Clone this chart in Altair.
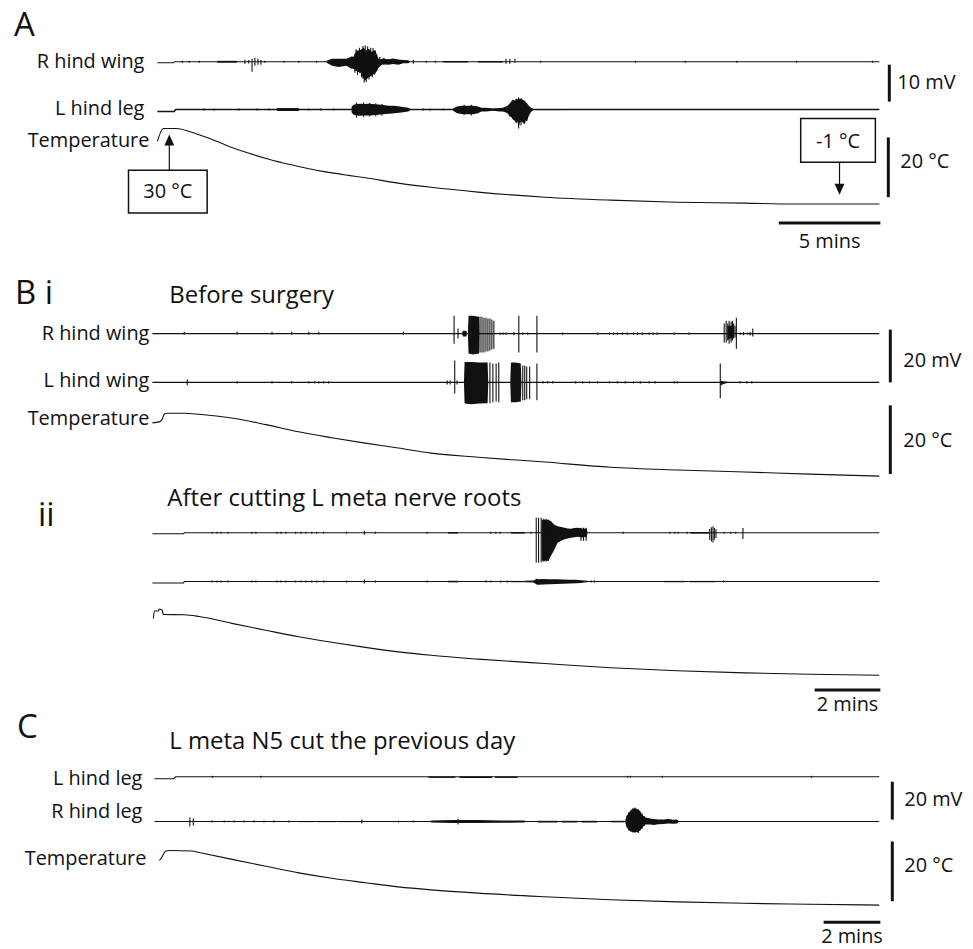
import altair as alt
import pandas as pd

# ======================= DATA =======================
# time in minutes from trace start, voltage in mV (up / down excursion), temperature in °C

# ---------- Panel A ----------
A_RW_BASE = [(0, -0.27), (0.8, -0.27), (0.83, 0), (35.54, 0)]
A_RW_SPIKES = [
    (1.23, 0.27, 0.27), (1.57, 0.27, 0.27), (2.06, 0.27, 0.27), (4.31, 0.54, 0.54),
    (4.5, 0.5, 0.5), (4.66, 0.8, 2.7), (4.8, 1.1, 1.1), (4.95, 0.8, 0.8), (5.1, 0.5, 0.8),
    (5.29, 0.27, 0.27), (6.23, 0.27, 0.27), (6.96, 0.27, 0.27), (7.84, 0.27, 0.27),
    (9.72, 2.2, 3.0), (9.78, 3.4, 2.5), (9.85, 2.8, 3.6), (9.95, 3.8, 3.0), (10.05, 3.0, 4.2),
    (10.12, 4.3, 4.6), (10.18, 3.6, 5.6), (10.23, 4.4, 4.8), (10.28, 3.2, 5.5), (10.35, 4.2, 4.2),
    (10.42, 3.3, 4.8), (10.5, 3.8, 3.6), (10.58, 2.6, 4.2), (10.62, 3.7, 3.1), (10.7, 2.9, 3.5),
    (10.8, 2.2, 2.4), (10.95, 1.3, 1.1), (11.15, 1.0, 0.9),
    (12.6, 0.54, 0.54), (13.24, 0.27, 0.27), (13.68, 0.27, 0.27),
    (17.16, 0.8, 0.54), (17.35, 0.8, 0.54), (17.6, 0.8, 0.27), (18.87, 0.27, 0.27),
    (23.53, 0.27, 0.27), (25.98, 0.27, 0.27), (28.53, 0.27, 0.27), (31.47, 0.27, 0.27),
    (35.2, 0.27, 0.27),
]
A_RW_BURSTS = [
    [(2.94, 0.25, 0.25), (3.92, 0.25, 0.25)],
    [(8.33, 0.3, 0.3), (8.6, 0.8, 1.1), (8.92, 0.8, 1.4), (9.3, 0.8, 1.1), (9.56, 1.4, 1.9),
     (9.66, 1.35, 1.9), (9.8, 3.0, 2.5), (10.0, 3.2, 3.0), (10.15, 3.8, 4.5), (10.25, 2.7, 5.0),
     (10.39, 3.5, 4.3), (10.54, 2.7, 3.8), (10.74, 3.2, 3.0), (10.78, 1.9, 2.8), (10.88, 0.9, 1.6),
     (11.0, 0.6, 1.0), (11.1, 0.9, 0.7), (11.37, 0.7, 0.8), (11.6, 0.9, 0.6), (11.86, 0.6, 0.8),
     (12.1, 0.5, 0.4), (12.35, 0.4, 0.4), (12.45, 0, 0)],
    [(14.07, 0.2, 0.2), (15.29, 0.2, 0.2)],
    [(15.78, 0.2, 0.2), (17.01, 0.2, 0.2)],
]

A_LL_BASE = [(0, -0.54), (0.83, -0.54), (0.9, 0), (35.54, 0)]
A_LL_SPIKES = [
    (2.3, 0.27, 0.27), (2.79, 0.27, 0.27), (4.02, 0.27, 0.27), (4.9, 0.27, 0.27), (5.49, 0.27, 0.27),
    (7.45, 0.27, 0.27), (8.04, 0.27, 0.27), (8.68, 0.27, 0.27), (9.8, 1.9, 2.2), (10.15, 1.9, 2.0),
    (10.45, 1.8, 1.9), (10.75, 1.7, 1.8), (11.05, 1.5, 1.7),
    (13.09, 0.27, 0.27), (13.43, 0.27, 0.27), (14.07, 0.27, 0.27), (15.1, 1.3, 1.5),
    (15.45, 1.3, 1.6), (17.78, 3.24, 5.14), (17.9, 3.0, 4.3),
]
A_LL_BURSTS = [
    [(5.88, 0.4, 0.4), (6.96, 0.4, 0.4)],
    [(9.56, 0.8, 0.8), (9.66, 1.3, 1.4), (9.8, 1.5, 1.6), (10.0, 1.55, 1.7), (10.2, 1.5, 1.6),
     (10.4, 1.55, 1.6), (10.6, 1.5, 1.55), (10.88, 1.35, 1.4), (11.1, 1.2, 1.3), (11.4, 1.0, 1.15),
     (11.67, 1.0, 1.0), (12.01, 0.75, 0.8), (12.35, 0.5, 0.5), (12.5, 0, 0)],
    [(14.56, 0.3, 0.3), (14.75, 0.8, 1.0), (15.0, 1.0, 1.2), (15.2, 1.05, 1.3), (15.54, 1.05, 1.3),
     (15.78, 0.8, 1.0), (15.95, 0.5, 0.55), (16.18, 0.5, 0.5), (16.52, 0.3, 0.3), (16.85, 0.45, 0.5),
     (17.01, 0.5, 0.5), (17.16, 0.8, 0.8), (17.25, 1.08, 1.08), (17.34, 1.62, 1.89), (17.42, 2.2, 2.0),
     (17.5, 2.7, 2.7), (17.58, 2.4, 3.0), (17.66, 2.97, 3.78), (17.72, 2.7, 3.2), (17.78, 3.24, 5.14),
     (17.84, 2.8, 3.6), (17.91, 2.97, 3.24), (18.0, 2.6, 3.6), (18.07, 2.43, 4.05), (18.14, 2.0, 3.0),
     (18.2, 1.62, 3.24), (18.26, 1.2, 2.0), (18.32, 0.81, 1.35), (18.4, 0.5, 0.6), (18.48, 0.27, 0.27),
     (18.55, 0, 0)],
    [(18.6, 0.15, 0.15), (19.9, 0.15, 0.15)], [(20.1, 0.15, 0.15), (22.0, 0.15, 0.15)],
    [(22.3, 0.15, 0.15), (25.0, 0.15, 0.15)], [(25.2, 0.15, 0.15), (27.6, 0.15, 0.15)],
    [(27.8, 0.15, 0.15), (30.5, 0.15, 0.15)], [(30.7, 0.15, 0.15), (33.0, 0.15, 0.15)],
    [(33.2, 0.15, 0.15), (35.5, 0.15, 0.15)],
]

A_TEMP_T = [0, 0.29, 0.93, 1.57, 2.55, 3.53, 4.51, 5.49, 6.47, 7.45, 8.43, 9.41, 10.25, 11.86,
            13.48, 15.78, 19.07, 22.3, 25.59, 28.87, 31.32, 35.54]
A_TEMP_C = [25.7, 30, 30, 29, 26.7, 24, 21.7, 19.7, 18.0, 16.5, 15.3, 14.3, 13.5, 11.7,
            10.3, 8.7, 7.0, 6.0, 5.3, 5.0, 4.7, 4.7]

# ---------- Panel B i ----------
B_RW_BASE = [(0, 0), (22.12, 0)]
B_RW_SPIKES = [
    (0.97, 0.75, 0.38), (2.58, 0.75, 0.38), (3.64, 0.75, 0.38), (4.24, 0.75, 0.38),
    (4.76, 0.75, 0.38), (5.06, 0.75, 0.38), (7.64, 0.75, 0.38),
    (9.18, 6.8, 3.8), (9.3, 1.9, 1.9),
    (9.97, 6.4, 7.2), (10.03, 6.4, 7.2), (10.09, 6.0, 7.2), (10.15, 6.0, 6.8), (10.21, 5.7, 6.8),
    (10.27, 5.7, 6.4), (10.33, 5.3, 6.0), (10.39, 4.9, 5.7),
    (10.58, 0.4, 0.4), (10.67, 0.4, 0.4), (10.76, 0.4, 0.4), (11.0, 0.6, 0.6), (11.15, 6.8, 7.2),
    (11.27, 0.4, 0.4), (11.42, 0.4, 0.4), (11.7, 6.8, 7.2), (12.48, 0.4, 0.4), (13.55, 0.4, 0.4),
    (13.91, 0.4, 0.4), (14.03, 0.4, 0.4), (14.15, 0.4, 0.4), (14.3, 0.4, 0.4), (14.45, 0.4, 0.4),
    (14.64, 0.4, 0.4), (14.76, 0.4, 0.4), (14.91, 0.4, 0.4), (15.12, 0.4, 0.4), (15.24, 0.4, 0.4),
    (15.36, 0.4, 0.4), (15.88, 0.4, 0.4), (16.33, 0.4, 0.4),
    (17.4, 3.8, 3.4), (17.46, 4.9, 3.4), (17.51, 3.8, 2.6), (17.55, 4.9, 3.8), (17.61, 4.5, 3.4),
    (17.65, 4.9, 2.6), (17.69, 3.8, 1.9), (17.73, 3.0, 1.5), (17.77, 6.0, 5.7),
    (17.89, 0.4, 0.4), (17.99, 0.6, 0.6), (18.11, 0.4, 0.4), (18.19, 0.75, 0.75), (18.27, 1.9, 1.1),
]
B_RW_BURSTS = [
    [(9.42, 0, 0), (9.45, 1.1, 1.1), (9.55, 1.1, 1.1), (9.58, 0, 0)],
    [(9.6, 0, 0), (9.62, 6.8, 7.5), (9.75, 6.8, 7.9), (9.94, 6.4, 7.5), (9.95, 0, 0)],
    [(17.5, 3.0, 2.2), (17.7, 3.0, 1.5)],
]

B_LW_BASE = [(0, 0), (22.12, 0)]
B_LW_SPIKES = [
    (1.06, 1.1, 1.1), (2.58, 0.4, 0.4), (3.64, 0.4, 0.4), (4.24, 0.4, 0.4), (4.76, 0.4, 0.4),
    (4.94, 0.4, 0.4), (5.06, 0.4, 0.4), (5.21, 0.4, 0.4), (5.36, 0.4, 0.4),
    (8.97, 0.75, 0.75), (9.06, 0.75, 0.75), (9.2, 8.3, 4.2), (9.27, 0.75, 0.75),
    (10.27, 7.5, 7.9), (10.36, 7.2, 7.5), (10.46, 7.2, 7.2), (10.54, 7.5, 7.5),
    (11.27, 6.4, 6.8), (11.33, 6.4, 6.8), (11.39, 6.0, 6.4), (11.48, 6.0, 6.4), (11.7, 7.2, 6.8),
    (11.88, 0.4, 0.4), (12.03, 0.4, 0.4), (12.18, 0.4, 0.4), (12.88, 0.4, 0.4), (13.09, 0.4, 0.4),
    (13.3, 0.4, 0.4), (13.55, 0.4, 0.4), (13.91, 0.4, 0.4), (14.15, 0.4, 0.4), (14.39, 0.4, 0.4),
    (14.64, 0.4, 0.4), (14.85, 0.4, 0.4), (15.12, 0.4, 0.4), (15.3, 0.4, 0.4), (15.88, 0.4, 0.4),
    (15.97, 0.4, 0.4), (17.28, 7.2, 6.0), (17.88, 0.4, 0.4), (18.09, 0.4, 0.4), (18.24, 0.4, 0.4),
]
B_LW_BURSTS = [
    [(9.48, 0, 0), (9.5, 7.7, 8.0), (9.7, 7.7, 8.3), (9.95, 7.5, 8.0), (10.2, 7.5, 7.9), (10.22, 0, 0)],
    [(10.89, 0, 0), (10.91, 7.5, 7.5), (11.05, 7.5, 7.5), (11.21, 7.2, 7.2), (11.23, 0, 0)],
    [(17.29, 0.75, 1.5), (17.33, 0.5, 0.9), (17.4, 0.3, 0.5), (17.5, 0.2, 0.2)],
]

B_TEMP_T = [0, 0.21, 0.3, 0.36, 0.45, 0.97, 1.42, 2.42, 3.45, 4.45, 5.45, 6.48, 7.48, 8.48,
            9.91, 11.94, 13.94, 15.97, 18.03, 20.0, 22.12]
B_TEMP_C = [27.2, 27.5, 28.3, 29.7, 30, 30, 29.7, 28.6, 26.7, 24.6, 22.9, 21.3, 19.9, 18.4,
            17.2, 15.8, 14.3, 13.5, 12.9, 12.3, 11.7]

# ---------- Panel B ii ----------
BII_DOTS = [1.82, 1.97, 2.09, 2.3, 3.03, 3.15, 3.79, 3.91, 4.06, 4.36, 4.52, 4.67, 4.85, 5.0,
            5.21, 5.91, 6.79, 8.36]
BII1_BASE = [(0, -0.38), (0.95, -0.38), (0.97, 0), (22.12, 0)]
BII1_SPIKES = [
    (6.45, 0.75, 0.75), (10.3, 0.4, 0.4), (10.45, 0.4, 0.4), (10.58, 0.4, 0.4), (11.52, 0.4, 0.4),
    (11.68, 5.7, 11.3), (11.75, 5.7, 11.3), (11.83, 5.7, 11.3), (11.91, 5.3, 11.0),
    (11.98, 5.3, 10.9), (12.05, 4.9, 10.6), (13.04, 1.9, 3.0), (13.12, 1.9, 3.0), (13.2, 1.9, 3.0),
    (14.33, 0.4, 0.4), (15.75, 0.4, 0.4), (15.9, 0.4, 0.4), (16.0, 0.4, 0.4), (16.27, 0.4, 0.4),
    (16.96, 1.4, 2.6), (17.01, 2.1, 3.3), (17.06, 2.5, 3.7), (17.1, 1.8, 2.6), (17.15, 1.3, 2.0),
    (17.4, 0.4, 0.4), (17.6, 0.4, 0.4), (17.75, 0.4, 0.4), (17.97, 1.8, 2.4),
]
BII1_BURSTS = [
    [(9.0, 0.3, 0.3), (9.3, 0.3, 0.3)],
    [(10.91, 0.3, 0.3), (11.33, 0.3, 0.3)],
    [(11.84, 0, 0), (11.85, 4.9, 10.6), (12.05, 4.9, 10.6), (12.13, 4.4, 8.7), (12.23, 3.0, 6.4),
     (12.33, 2.5, 3.8), (12.44, 2.2, 3.0), (12.54, 1.9, 2.5), (12.64, 1.6, 2.2), (12.74, 1.5, 1.9),
     (12.84, 1.8, 1.7), (12.94, 1.9, 1.5), (13.08, 1.6, 1.8), (13.22, 1.5, 1.5), (13.24, 0, 0)],
    [(16.37, 0.3, 0.3), (16.93, 0.3, 0.3)],
]
BII2_BASE = [(0, -0.57), (0.95, -0.57), (0.97, 0), (22.12, 0)]
BII2_SPIKES = [
    (6.45, 0.75, 0.75), (10.15, 0.4, 0.4), (10.3, 0.4, 0.4), (10.6, 0.4, 0.4), (10.8, 0.4, 0.4),
    (11.71, 1.1, 1.1), (13.2, 0.4, 0.4), (13.35, 0.4, 0.4), (13.45, 0.4, 0.4), (17.38, 0.4, 0.4),
]
BII2_BURSTS = [
    [(9.0, 0.3, 0.3), (9.3, 0.3, 0.3)],
    [(10.9, 0.25, 0.25), (11.3, 0.25, 0.25)],
    [(11.32, 0.3, 0.3), (11.6, 0.4, 0.4), (11.68, 1.0, 1.0), (11.75, 0.9, 1.2), (11.9, 1.0, 1.1),
     (12.1, 0.9, 1.0), (12.3, 0.85, 0.95), (12.5, 0.8, 0.8), (12.7, 0.7, 0.75), (12.9, 0.65, 0.65),
     (13.05, 0.5, 0.5), (13.14, 0.4, 0.4), (13.2, 0.2, 0.2)],
    [(15.57, 0.25, 0.25), (16.2, 0.25, 0.25)], [(16.35, 0.25, 0.25), (17.13, 0.25, 0.25)],
]
BII_TEMP_T = [0.03, 0.06, 0.18, 0.21, 0.27, 0.3, 0.33, 0.97, 1.42, 2.42, 3.45, 4.45, 5.45, 6.48,
              7.48, 8.48, 9.91, 11.94, 13.94, 15.97, 18.03, 20.0, 22.12]
BII_TEMP_C = [28.8, 31.0, 31.0, 31.6, 31.4, 31.2, 30.0, 29.9, 29.4, 27.4, 25.4, 23.5, 21.9, 20.4,
              19.1, 18.1, 17.0, 15.7, 14.5, 13.6, 13.0, 12.6, 12.3]

# ---------- Panel C ----------
C_LL_BASE = [(0, -1.05), (0.68, -1.05), (0.75, 0), (25.54, 0)]
C_LL_SPIKES = [(2.04, 0.5, 0.5), (3.75, 0.5, 0.5), (16.67, 0.5, 0.5), (16.77, 0.5, 0.5),
               (17.9, 0.5, 0.5), (23.16, 0.5, 0.5)]
C_LL_BURSTS = [[(9.65, 0.1, 0.6), (10.6, 0.1, 0.6)], [(10.75, 0.1, 0.6), (11.9, 0.1, 0.6)],
               [(12.0, 0.1, 0.6), (12.8, 0.1, 0.6)]]

C_RL_BASE = [(0, 0), (25.54, 0)]
C_RL_SPIKES = [
    (1.25, 2.1, 2.6), (1.37, 1.6, 2.1), (2.04, 0.5, 0.5), (2.46, 0.5, 0.5), (2.81, 0.5, 0.5),
    (3.16, 0.5, 0.5), (3.51, 0.5, 0.5), (3.86, 0.5, 0.5), (4.21, 0.5, 0.5), (4.74, 0.5, 0.5),
    (7.31, 1.05, 1.05), (8.6, 0.5, 0.5), (9.12, 0.5, 0.5), (10.7, 1.6, 1.6),
    (16.65, 3.2, 3.0), (16.72, 5.0, 4.7), (16.8, 6.3, 5.3), (16.86, 7.1, 5.8), (16.93, 7.4, 5.8),
    (16.98, 6.8, 5.5), (17.05, 6.5, 6.0), (17.1, 5.8, 4.9), (17.18, 4.2, 3.8), (17.26, 3.0, 2.4),
]
C_RL_BURSTS = [
    [(5.09, 0.3, 0.3), (5.6, 0.3, 0.3)], [(5.75, 0.3, 0.3), (6.4, 0.3, 0.3)],
    [(6.5, 0.3, 0.3), (7.2, 0.3, 0.3)],
    [(9.75, 0.5, 0.5), (10.5, 0.8, 0.8), (11.4, 0.8, 0.8), (12.2, 0.6, 0.6), (13.05, 0.5, 0.5)],
    [(13.5, 0.4, 0.5), (14.2, 0.4, 0.5)], [(14.35, 0.4, 0.5), (14.9, 0.4, 0.5)],
    [(15.05, 0.4, 0.5), (15.6, 0.4, 0.5)],
    [(16.07, 0.4, 0.4), (16.56, 0.4, 0.4)],
    [(16.58, 0, 0), (16.61, 1.58, 1.58), (16.69, 4.2, 4.2), (16.78, 5.8, 5.3), (16.9, 7.0, 5.6),
     (17.02, 6.5, 5.6), (17.13, 5.0, 4.5), (17.23, 3.0, 2.5), (17.31, 2.1, 1.6), (17.48, 1.6, 1.6),
     (17.6, 1.4, 1.8), (17.75, 1.1, 1.4), (17.95, 1.05, 1.3), (18.1, 1.3, 1.0), (18.3, 0.9, 1.2),
     (18.42, 1.05, 1.05), (18.48, 0, 0)],
]
C_TEMP_T = [0.18, 0.28, 0.39, 0.53, 1.33, 1.58, 2.74, 3.93, 5.09, 6.25, 7.44, 8.6, 9.75, 11.4,
            13.75, 16.07, 18.42, 20.77, 23.09, 25.54]
C_TEMP_C = [26.7, 28.0, 29.7, 30, 29.8, 29.3, 27.0, 24.7, 22.5, 20.7, 19.2, 17.8, 16.8, 15.7,
            14.5, 13.5, 12.8, 12.3, 12.0, 11.7]

# scale bars: (trace whose gain is used, length in units, label)
V_BARS = [("A_RW", 10, "10 mV"), ("A_T", 20, "20 °C"), ("B_RW", 20, "20 mV"),
          ("B_T", 20, "20 °C"), ("C_RL", 20, "20 mV"), ("C_T", 20, "20 °C")]
H_BARS = [("A", 5, "5 mins"), ("B", 2, "2 mins"), ("C", 2, "2 mins")]

# ======================= LAYOUT (page pixels) =======================
PANEL_X = {"A": (158, 20.4), "B": (153, 33.0), "C": (155, 28.5)}   # x of t=0, px per minute
# trace: (panel, y px of reference value, px per unit, reference value, stroke width, temperature?)
TRACE_LAYOUT = {
    "A_RW": ("A", 60, 3.7, 0, 1.1, False), "A_LL": ("A", 108, 3.7, 0, 1.5, False),
    "A_T": ("A", 127, 3.0, 30, 1.1, True),
    "B_RW": ("B", 333, 2.65, 0, 1.1, False), "B_LW": ("B", 382, 2.65, 0, 1.1, False),
    "B_T": ("B", 413, 3.45, 30, 1.1, True),
    "BII1": ("B", 533, 2.65, 0, 1.1, False), "BII2": ("B", 582, 2.65, 0, 1.1, False),
    "BII_T": ("B", 615, 3.45, 30, 1.1, True),
    "C_LL": ("C", 778, 1.9, 0, 1.1, False), "C_RL": ("C", 823, 1.9, 0, 1.1, False),
    "C_T": ("C", 852, 3.0, 30, 1.1, True),
}
V_BAR_POS = [(893, 63, 901, 87), (892, 136, 904, 167), (894, 329, 907, 367),
             (894, 405, 907, 447), (896, 783, 908, 807), (896, 843, 908, 874)]  # x, top, label x, baseline
H_BAR_POS = [(884, 222, 247), (884, 691, 712), (884, 924, 945)]  # right x, y, label baseline

LABELS = [
    ("A", 14, 34, 33, "left"), ("R hind wing", 145, 66, 20, "right"),
    ("L hind leg", 145, 113, 20, "right"), ("Temperature", 150, 146, 20, "right"),
    ("30 °C", 168.5, 197, 20, "center"), ("-1 °C", 841.5, 147, 20, "center"),
    ("B i", 15, 303, 33, "left"), ("Before surgery", 170, 302, 24, "left"),
    ("R hind wing", 150, 339, 20, "right"), ("L hind wing", 150, 387, 20, "right"),
    ("Temperature", 150, 425, 20, "right"),
    ("ii", 38, 526, 33, "left"), ("After cutting L meta nerve roots", 168, 506, 24, "left"),
    ("C", 17, 739, 33, "left"), ("L meta N5 cut the previous day", 170, 750, 24, "left"),
    ("L hind leg", 143, 786, 20, "right"), ("R hind leg", 143, 819, 20, "right"),
    ("Temperature", 147, 867, 20, "right"),
]
BOXES = [(129, 169, 208, 212), (804, 117, 879, 161)]
ARROW_LINES = [(170, 169, 143), (843, 161, 183)]
ARROW_HEADS_UP = [(170, 138.5)]
ARROW_HEADS_DOWN = [(843, 188)]

W, H = 961, 941   # plot area in px (page x 8..969, y 8..949)

# ======================= BUILD =======================
def X(p, t):
    x0, k = PANEL_X[p]
    return x0 + t * k

def Y(name, v):
    _, y0, k, v0, _, _ = TRACE_LAYOUT[name]
    return y0 - (v - v0) * k

lines, areas, rules = [], [], []

def add_trace(name, base, spikes=(), bursts=()):
    p, _, _, _, w, is_t = TRACE_LAYOUT[name]
    for i, (t, v) in enumerate(base):
        lines.append(dict(x=X(p, t), y=Y(name, v), g=name, o=i, w=w, temp=is_t))
    for t, up, dn in spikes:
        rules.append(dict(x=X(p, t), y=Y(name, up), y2=Y(name, -dn)))
    for j, b in enumerate(bursts):
        for t, up, dn in b:
            areas.append(dict(x=X(p, t), y=Y(name, up), y2=Y(name, -dn), g=f"{name}_{j}"))

add_trace("A_RW", A_RW_BASE, A_RW_SPIKES, A_RW_BURSTS)
add_trace("A_LL", A_LL_BASE, A_LL_SPIKES, A_LL_BURSTS)
add_trace("A_T", list(zip(A_TEMP_T, A_TEMP_C)))
add_trace("B_RW", B_RW_BASE, B_RW_SPIKES, B_RW_BURSTS)
add_trace("B_LW", B_LW_BASE, B_LW_SPIKES, B_LW_BURSTS)
add_trace("B_T", list(zip(B_TEMP_T, B_TEMP_C)))
add_trace("BII1", BII1_BASE, BII1_SPIKES + [(t, 0.4, 0.4) for t in BII_DOTS], BII1_BURSTS)
add_trace("BII2", BII2_BASE, BII2_SPIKES + [(t, 0.4, 0.4) for t in BII_DOTS], BII2_BURSTS)
add_trace("BII_T", list(zip(BII_TEMP_T, BII_TEMP_C)))
add_trace("C_LL", C_LL_BASE, C_LL_SPIKES, C_LL_BURSTS)
add_trace("C_RL", C_RL_BASE, C_RL_SPIKES, C_RL_BURSTS)
add_trace("C_T", list(zip(C_TEMP_T, C_TEMP_C)))

bars, texts = [], []
for (name, length, lab), (bx, top, lx, lb) in zip(V_BARS, V_BAR_POS):
    k = TRACE_LAYOUT[name][2]
    bars.append(dict(x=bx, x2=bx, y=top, y2=top + length * k))
    texts.append(dict(text=lab, x=lx, y=lb, s=20, a="left"))
for (p, length, lab), (rx, by, lb) in zip(H_BARS, H_BAR_POS):
    k = PANEL_X[p][1]
    bars.append(dict(x=rx - length * k, x2=rx, y=by, y2=by))
    texts.append(dict(text=lab, x=rx - length * k / 2, y=lb, s=20, a="center"))
for t, x, y, s, a in LABELS:
    texts.append(dict(text=t, x=x, y=y, s=s, a=a))

df_lines = pd.DataFrame(lines)
df_areas = pd.DataFrame(areas)
df_rules = pd.DataFrame(rules)
df_bars = pd.DataFrame(bars)
df_text = pd.DataFrame(texts)
df_boxes = pd.DataFrame(BOXES, columns=["x", "y", "x2", "y2"])
df_arrows = pd.DataFrame(ARROW_LINES, columns=["x", "y", "y2"])
df_up = pd.DataFrame(ARROW_HEADS_UP, columns=["x", "y"])
df_down = pd.DataFrame(ARROW_HEADS_DOWN, columns=["x", "y"])

XS = alt.Scale(domain=[8, 8 + W], nice=False, zero=False)
YS = alt.Scale(domain=[8, 8 + H], nice=False, zero=False, reverse=True)
ex = lambda f="x": alt.X(f"{f}:Q", scale=XS, axis=None)
ey = lambda f="y": alt.Y(f"{f}:Q", scale=YS, axis=None, stack=None)

INK = "#111111"
line_enc = dict(x=ex(), y=ey(), detail="g:N", order="o:Q",
                strokeWidth=alt.StrokeWidth("w:Q", scale=None))
layers = [
    alt.Chart(df_areas).mark_area(color=INK, opacity=1, interpolate="linear").encode(
        x=ex(), y=ey(), y2="y2:Q", detail="g:N"),
    alt.Chart(df_lines[~df_lines.temp]).mark_line(color=INK, interpolate="linear").encode(**line_enc),
    alt.Chart(df_lines[df_lines.temp]).mark_line(color=INK, interpolate="monotone").encode(**line_enc),
    alt.Chart(df_rules).mark_rule(color=INK, strokeWidth=1.1).encode(x=ex(), y=ey(), y2="y2:Q"),
    alt.Chart(df_bars).mark_rule(color=INK, strokeWidth=3).encode(
        x=ex(), x2="x2:Q", y=ey(), y2="y2:Q"),
    alt.Chart(df_boxes).mark_rect(fill="white", stroke=INK, strokeWidth=1.5).encode(
        x=ex(), x2="x2:Q", y=ey(), y2="y2:Q"),
    alt.Chart(df_arrows).mark_rule(color=INK, strokeWidth=1.2).encode(x=ex(), y=ey(), y2="y2:Q"),
    alt.Chart(df_up).mark_point(shape="M0,-1L0.9,1L-0.9,1Z", size=121, filled=True,
                                color=INK, opacity=1).encode(x=ex(), y=ey()),
    alt.Chart(df_down).mark_point(shape="M0,1L0.9,-1L-0.9,-1Z", size=121, filled=True,
                                  color=INK, opacity=1).encode(x=ex(), y=ey()),
]
for a in ["left", "center", "right"]:
    layers.append(
        alt.Chart(df_text[df_text.a == a]).mark_text(
            align=a, baseline="alphabetic", font="Open Sans", color=INK).encode(
            x=ex(), y=ey(), text="text:N", size=alt.Size("s:Q", scale=None)))

chart = alt.layer(*layers).properties(
    width=W, height=H, padding=0, background="white",
    autosize=alt.AutoSizeParams(type="none"),
).configure_view(strokeWidth=0)

chart.save("out.html", embed_options={"renderer": "svg", "actions": False})
